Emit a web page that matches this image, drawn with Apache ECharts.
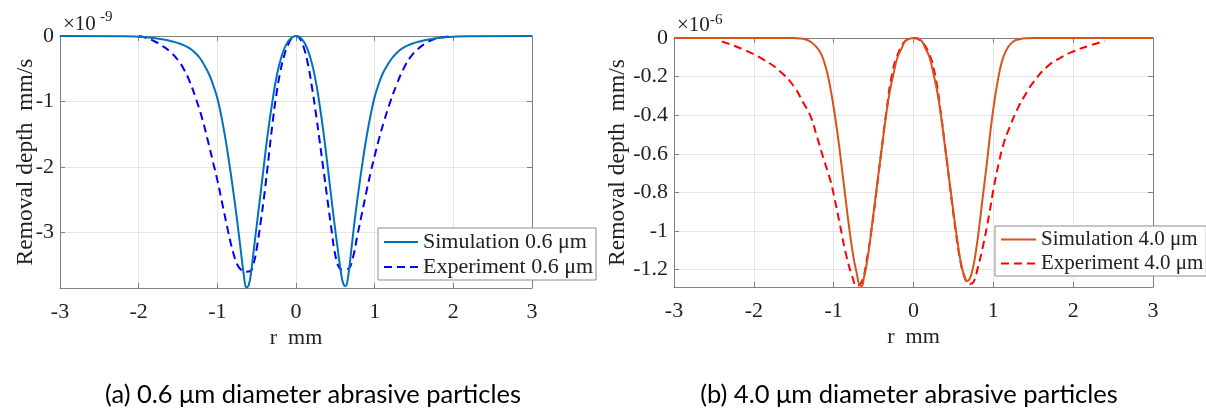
<!DOCTYPE html>
<html>
<head>
<meta charset="utf-8">
<script src="https://cdn.jsdelivr.net/npm/echarts@6/dist/echarts.min.js"></script>
<style>
  html, body { margin: 0; padding: 0; background: #fff; }
  #chart { width: 1206px; height: 414px; }
</style>
</head>
<body>
<div id="chart"></div>
<script>
// Removal depth profiles, r in mm.
// (a) 0.6 um particles, depth in units of 1e-9 mm/s
const rSim06 = [-3, -2.2, -1.9, -1.7, -1.55, -1.45, -1.35, -1.28, -1.22, -1.16,
  -1.1, -1.05, -1.0, -0.95, -0.9, -0.85, -0.8, -0.75, -0.7, -0.66,
  -0.63, -0.6, -0.57, -0.53, -0.48, -0.42, -0.36, -0.3, -0.24, -0.18,
  -0.12, -0.06, 0, 0.06, 0.12, 0.18, 0.24, 0.3, 0.36, 0.42,
  0.48, 0.53, 0.57, 0.6, 0.63, 0.66, 0.7, 0.75, 0.8, 0.85,
  0.9, 0.95, 1.0, 1.05, 1.1, 1.16, 1.22, 1.28, 1.35, 1.45,
  1.55, 1.7, 1.9, 2.2, 3];
const sim06 = [0, -0.005, -0.02, -0.05, -0.09, -0.13, -0.19, -0.26, -0.34, -0.46,
  -0.6, -0.76, -0.95, -1.22, -1.55, -1.93, -2.35, -2.8, -3.3, -3.68,
  -3.84, -3.8, -3.6, -3.2, -2.7, -2.1, -1.5, -1.0, -0.58, -0.3,
  -0.12, -0.03, 0, -0.03, -0.13, -0.32, -0.62, -1.05, -1.57, -2.17,
  -2.78, -3.25, -3.6, -3.78, -3.82, -3.7, -3.3, -2.78, -2.32, -1.9,
  -1.52, -1.2, -0.93, -0.74, -0.58, -0.45, -0.34, -0.26, -0.19, -0.13,
  -0.09, -0.05, -0.02, -0.005, 0];

const rExp06 = [-2.0, -1.9, -1.8, -1.7, -1.6, -1.5, -1.42, -1.35, -1.28, -1.2,
  -1.12, -1.05, -1.0, -0.93, -0.86, -0.8, -0.75, -0.7, -0.64, -0.58,
  -0.54, -0.5, -0.45, -0.4, -0.35, -0.3, -0.25, -0.2, -0.15, -0.1,
  -0.05, 0, 0.05, 0.1, 0.15, 0.2, 0.25, 0.3, 0.35, 0.4,
  0.45, 0.5, 0.55, 0.6, 0.66, 0.72, 0.78, 0.84, 0.9, 0.95,
  1.0, 1.06, 1.12, 1.2, 1.28, 1.36, 1.45, 1.55, 1.65, 1.75,
  1.85, 2.0];
const exp06 = [0, -0.03, -0.08, -0.15, -0.24, -0.37, -0.52, -0.7, -0.93, -1.23,
  -1.6, -1.95, -2.2, -2.6, -3.0, -3.3, -3.48, -3.57, -3.6, -3.59,
  -3.48, -3.25, -2.85, -2.4, -1.88, -1.35, -0.9, -0.55, -0.3, -0.13,
  -0.03, 0, -0.04, -0.18, -0.42, -0.76, -1.16, -1.6, -2.05, -2.5,
  -2.95, -3.35, -3.54, -3.57, -3.56, -3.4, -3.05, -2.7, -2.35, -2.08,
  -1.83, -1.55, -1.3, -1.0, -0.74, -0.52, -0.33, -0.2, -0.11, -0.05,
  -0.02, 0];

// (b) 4.0 um particles, depth in units of 1e-6 mm/s
const rSim40 = [-3, -1.5, -1.42, -1.35, -1.28, -1.22, -1.16, -1.1, -1.05, -1.0,
  -0.95, -0.9, -0.85, -0.8, -0.75, -0.71, -0.68, -0.65, -0.62, -0.59,
  -0.55, -0.5, -0.45, -0.4, -0.35, -0.3, -0.25, -0.2, -0.15, -0.1,
  -0.05, 0, 0.05, 0.1, 0.15, 0.2, 0.25, 0.3, 0.35, 0.4,
  0.45, 0.5, 0.55, 0.6, 0.64, 0.67, 0.7, 0.74, 0.78, 0.82,
  0.87, 0.92, 0.97, 1.02, 1.07, 1.12, 1.18, 1.25, 1.33, 1.42,
  1.5, 3];
const sim40 = [0, 0, -0.002, -0.008, -0.022, -0.045, -0.08, -0.15, -0.24, -0.36,
  -0.5, -0.665, -0.835, -1.0, -1.14, -1.22, -1.275, -1.285, -1.24, -1.18,
  -1.07, -0.905, -0.74, -0.58, -0.42, -0.285, -0.186, -0.1, -0.055, -0.015,
  -0.004, 0, -0.004, -0.015, -0.055, -0.1, -0.186, -0.285, -0.42, -0.58,
  -0.74, -0.9, -1.05, -1.18, -1.235, -1.26, -1.25, -1.2, -1.11, -0.99,
  -0.815, -0.645, -0.46, -0.31, -0.19, -0.105, -0.05, -0.018, -0.006, -0.001,
  0, 0];

const rExp40 = [-2.4, -2.13, -1.88, -1.67, -1.5, -1.38, -1.29, -1.21, -1.13, -1.04,
  -1.0, -0.92, -0.84, -0.756, -0.714, -0.65, -0.59, -0.525, -0.46, -0.40,
  -0.336, -0.273, -0.19, -0.092, 0, 0.084, 0.19, 0.273, 0.336, 0.40,
  0.46, 0.525, 0.59, 0.65, 0.70, 0.75, 0.80, 0.88, 0.945, 1.008,
  1.07, 1.134, 1.197, 1.3, 1.42, 1.5, 1.67, 1.85, 2.0, 2.2,
  2.4];
const exp40 = [-0.018, -0.06, -0.112, -0.173, -0.25, -0.336, -0.405, -0.51, -0.62, -0.74,
  -0.81, -0.97, -1.13, -1.25, -1.285, -1.265, -1.16, -0.99, -0.78, -0.577,
  -0.37, -0.198, -0.077, -0.012, 0, -0.012, -0.077, -0.198, -0.37, -0.577,
  -0.78, -0.99, -1.16, -1.25, -1.275, -1.265, -1.2, -1.06, -0.92, -0.77,
  -0.645, -0.54, -0.47, -0.37, -0.28, -0.23, -0.15, -0.10, -0.07, -0.04,
  -0.015];

const seriesNames = ['Simulation 0.6 μm', 'Experiment 0.6 μm', 'Simulation 4.0 μm', 'Experiment 4.0 μm'];
const captions = ['(a) 0.6 μm diameter abrasive particles', '(b) 4.0 μm diameter abrasive particles'];
const xName = 'r  mm';
const yName = 'Removal depth  mm/s';

const SERIF = 'Liberation Serif';
const AXIS_COLOR = '#808080';
const GRID_COLOR = '#e6e6e6';
const TEXT_COLOR = '#222';

const pairs = (xs, ys) => xs.map((x, i) => [x, ys[i]]);

function xAxesFor(grid) {
  const common = {
    type: 'value', gridIndex: grid, min: -3, max: 3, interval: 1,
    axisLine: { show: true, onZero: false, lineStyle: { color: AXIS_COLOR, width: 1 } },
    axisTick: { show: true, inside: true, length: 5, lineStyle: { color: AXIS_COLOR } }
  };
  return [
    Object.assign({}, common, {
      position: 'bottom',
      name: xName, nameLocation: 'middle', nameGap: 39, nameMoveOverlap: false,
      nameTextStyle: { fontFamily: SERIF, fontSize: 22, color: TEXT_COLOR },
      axisLabel: { fontFamily: SERIF, fontSize: 22, color: TEXT_COLOR, margin: 13 },
      splitLine: { show: true, lineStyle: { color: GRID_COLOR, width: 1 } }
    }),
    Object.assign({}, common, {
      position: 'top',
      axisLabel: { show: false },
      splitLine: { show: false }
    })
  ];
}

function yAxesFor(grid, min, splitNumber, nameGap) {
  const common = {
    type: 'value', gridIndex: grid, min: min, max: 0, splitNumber: splitNumber,
    axisLine: { show: true, onZero: false, lineStyle: { color: AXIS_COLOR, width: 1 } },
    axisTick: { show: true, inside: true, length: 5, lineStyle: { color: AXIS_COLOR } }
  };
  return [
    Object.assign({}, common, {
      position: 'left',
      name: yName, nameLocation: 'middle', nameGap: nameGap, nameRotate: 90, nameMoveOverlap: false,
      nameTextStyle: { fontFamily: SERIF, fontSize: 23.5, color: TEXT_COLOR },
      axisLabel: { fontFamily: SERIF, fontSize: 22, color: TEXT_COLOR, margin: 6, showMinLabel: false },
      splitLine: { show: true, lineStyle: { color: GRID_COLOR, width: 1 } }
    }),
    Object.assign({}, common, {
      position: 'right',
      axisLabel: { show: false },
      splitLine: { show: false }
    })
  ];
}

function lineSeries(name, xi, yi, data, color, dashed) {
  return {
    type: 'line', name: name, xAxisIndex: xi, yAxisIndex: yi,
    data: data, symbol: 'none', smooth: 0.5, color: color,
    lineStyle: { color: color, width: 2, type: dashed ? [8, 5] : 'solid' },
    z: dashed ? 3 : 4
  };
}

function legendFor(left, top, names, fontSize, itemWidth) {
  return {
    left: left, top: top, orient: 'vertical', data: names,
    itemWidth: itemWidth, itemHeight: 14, itemGap: 3,
    padding: [3, 3, 2, 5],
    itemStyle: { opacity: 0 },
    borderColor: '#8c8c8c', borderWidth: 1, borderRadius: 0, backgroundColor: '#fff',
    textStyle: { fontFamily: SERIF, fontSize: fontSize, color: TEXT_COLOR },
    z: 10
  };
}

const chart = echarts.init(document.getElementById('chart'), null, { renderer: 'canvas' });

const option = {
  animation: false,
  backgroundColor: '#fff',
  grid: [
    { left: 60, top: 36, width: 472, height: 252 },
    { left: 674, top: 38, width: 479, height: 249 }
  ],
  xAxis: xAxesFor(0).concat(xAxesFor(1)),
  yAxis: yAxesFor(0, -3.85, 4, 22).concat(yAxesFor(1, -1.29, 7, 44)),
  legend: [
    legendFor(378, 228, [seriesNames[0], seriesNames[1]], 22, 34),
    legendFor(995, 226, [seriesNames[2], seriesNames[3]], 21, 35)
  ],
  series: [
    lineSeries(seriesNames[0], 0, 0, pairs(rSim06, sim06), '#0072BD', false),
    lineSeries(seriesNames[1], 0, 0, pairs(rExp06, exp06), '#0000FF', true),
    lineSeries(seriesNames[2], 2, 2, pairs(rSim40, sim40), '#D95319', false),
    lineSeries(seriesNames[3], 2, 2, pairs(rExp40, exp40), '#FF0000', true)
  ],
  graphic: [
    { type: 'text', x: 63, y: 35, style: { text: '×10', font: '21px "Liberation Serif"', fill: TEXT_COLOR, verticalAlign: 'bottom' } },
    { type: 'text', x: 100, y: 25, style: { text: '-9', font: '15px "Liberation Serif"', fill: TEXT_COLOR, verticalAlign: 'bottom' } },
    { type: 'text', x: 677, y: 36, style: { text: '×10', font: '21px "Liberation Serif"', fill: TEXT_COLOR, verticalAlign: 'bottom' } },
    { type: 'text', x: 710, y: 28, style: { text: '-6', font: '15px "Liberation Serif"', fill: TEXT_COLOR, verticalAlign: 'bottom' } },
    { type: 'text', x: 313, y: 395, style: { text: captions[0], font: '25.5px Lato', fill: '#000', align: 'center', verticalAlign: 'middle' } },
    { type: 'text', x: 909, y: 395, style: { text: captions[1], font: '25.5px Lato', fill: '#000', align: 'center', verticalAlign: 'middle' } }
  ]
};

chart.setOption(option);
</script>
</body>
</html>
